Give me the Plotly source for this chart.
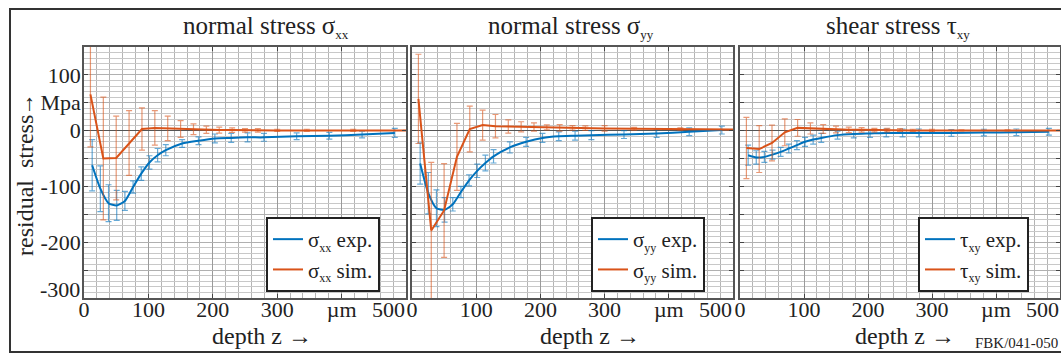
import plotly.graph_objects as go

# ---------------- data ----------------
depth_exp = [12.7, 25.4, 38.1, 50.8, 63.5, 76.2, 88.9, 101.6, 114.3, 127.0,
             152.4, 177.8, 203.2, 228.6, 254.0, 279.4, 330.2, 381.0, 431.8, 482.6]
depth_sim = [10, 30, 50, 70, 90, 110, 130, 150, 170, 190, 210, 230, 250, 270,
             300, 346, 418, 500]

sxx_exp = [-62, -104, -130, -134, -126, -101, -77, -57, -44, -35,
           -23, -18, -14, -13, -12, -12, -10, -9, -7, -4]
sxx_exp_err = [46, 41, 33, 27, 17, 11, 12, 12, 12, 10, 7, 7, 8, 8, 8, 7, 6, 6, 6, 8]
sxx_sim = [65, -50, -49, -22, 3, 5, 4, 3, 2.5, 1.5, 1, 1, 0.5, 0.5, 0.5, 0.5, 0.5, 0.5]
sxx_sim_err = [94, 110, 75, 58, 38, 31, 22, 15, 9.5, 6.5, 5.5, 4, 3, 3, 2, 2, 2, 0]

syy_exp = [-59, -112, -139, -142, -132, -110, -89, -72, -58, -46,
           -30, -20, -13, -10, -9, -8, -7, -5, -2, 1]
syy_exp_err = [37, 37, 33, 22, 12, 10, 10, 12, 14, 12, 10, 8, 8, 8, 8, 8, 7, 7, 7, 7]
syy_sim = [57, -179, -143, -47, 3, 10, 8, 7.5, 7, 6.5, 6, 5, 5, 4.5, 4, 3.5, 3, 2]
syy_sim_err = [80, 122, 84, 60, 41, 27, 21, 12, 9, 7.5, 4.5, 6, 4, 4, 5, 2.5, 2, 0]

txy_exp = [-44, -48, -47, -43, -38, -32, -26, -20, -16, -13,
           -8, -6, -5, -4, -4, -4, -4, -3.5, -3, -2]
txy_exp_err = [18, 12, 10, 8, 8, 8, 8, 8, 8, 8, 7, 7, 7, 7, 7, 7, 6, 6, 6, 6]
txy_sim = [-31, -33, -22, -3, 5, 4, 3, 2, 1.5, 1.5, 1, 1, 1, 0.5, 0.5, 0.5, 0.5, 0.5]
txy_sim_err = [55, 42, 32, 24, 15, 10, 8, 6, 5, 4, 3, 3, 2.5, 2, 2, 1, 1, 0]

symbols = ["σ", "σ", "τ"]
subscripts = ["xx", "yy", "xy"]
title_words = ["normal stress", "normal stress", "shear stress"]
x_tick_vals = [0, 100, 200, 300, 400, 500]
x_tick_text = ["0", "100", "200", "300", "µm", ""]
y_tick_vals = [-300, -250, -200, -150, -100, -50, 0, 50, 100, 150]
y_tick_text = ["", "", "-200", "", "-100", "", "0", "↑ Mpa", "100", ""]

# ---------------- styling ----------------
W, H = 1061, 354
FONT = "Liberation Serif"
BLUE = "#0072BD"
ORANGE = "#D95319"
BLUE_ERR = "rgba(0,114,189,0.6)"
ORANGE_ERR = "rgba(217,83,25,0.6)"
TXT = "#222222"


def px(xp):
    return xp / W


def py(yp):
    return 1 - yp / H


def sub(sym, s, size):
    return f"{sym}<sub><span style='font-size:{size}px'>{s}</span></sub>"


x_domains = [(84, 406), (412, 733), (740, 1060)]
y_domain = [py(298), py(47)]
title_x = [266, 571, 898]
depth_x = [262, 590, 905]
legend_x = [266, 591, 918]

exp_sets = [(sxx_exp, sxx_exp_err), (syy_exp, syy_exp_err), (txy_exp, txy_exp_err)]
sim_sets = [(sxx_sim, sxx_sim_err), (syy_sim, syy_sim_err), (txy_sim, txy_sim_err)]

fig = go.Figure()
layout = dict(
    width=W, height=H, margin=dict(l=0, r=0, t=0, b=0),
    paper_bgcolor="white", plot_bgcolor="white",
    font=dict(family=FONT, size=22, color=TXT),
    showlegend=True,
)

annotations = []
for i in range(3):
    ax = "" if i == 0 else str(i + 1)
    xref = "x" + ax
    yref = "y" + ax
    lg = "legend" + ax
    ye, ye_err = exp_sets[i]
    ys, ys_err = sim_sets[i]
    lab = sub(symbols[i], subscripts[i], 12)
    fig.add_trace(go.Scatter(
        x=depth_exp, y=ye, mode="lines", name=lab + " exp.",
        line=dict(color=BLUE, width=2, shape="spline", smoothing=0.6),
        error_y=dict(type="data", array=ye_err, color=BLUE_ERR, thickness=1.2, width=3),
        xaxis=xref, yaxis=yref, legend=lg))
    fig.add_trace(go.Scatter(
        x=depth_sim, y=ys, mode="lines", name=lab + " sim.",
        line=dict(color=ORANGE, width=2),
        error_y=dict(type="data", array=ys_err, color=ORANGE_ERR, thickness=1.2, width=3),
        xaxis=xref, yaxis=yref, legend=lg))

    layout["xaxis" + ax] = dict(
        domain=[px(x_domains[i][0]), px(x_domains[i][1])], range=[0, 500],
        anchor=yref, tickmode="array", tickvals=x_tick_vals, ticktext=x_tick_text,
        ticks="inside", ticklen=4, tickcolor="#444", tickwidth=1,
        ticklabelstandoff=-9,
        showline=True, linecolor="#555", linewidth=1.5, mirror="ticks",
        showgrid=True, gridcolor="#9a9a9a", gridwidth=1, zeroline=False,
        minor=dict(tickmode="linear", tick0=0, dtick=20, showgrid=True,
                   gridcolor="#b4b4b4", gridwidth=1, ticks=""),
        tickfont=dict(family=FONT, size=22, color=TXT), automargin=False)
    layout["yaxis" + ax] = dict(
        domain=y_domain, range=[-300, 150], anchor=xref,
        tickmode="array", tickvals=y_tick_vals, ticktext=y_tick_text,
        showticklabels=(i == 0), ticklabelstandoff=-3,
        ticks="inside", ticklen=4, tickcolor="#444", tickwidth=1,
        showline=True, linecolor="#555", linewidth=1.5, mirror="ticks",
        showgrid=True, gridcolor="#b0b0b0", gridwidth=1,
        zeroline=True, zerolinecolor="#555555", zerolinewidth=1.2,
        minor=dict(tickmode="linear", tick0=0, dtick=10, showgrid=True,
                   gridcolor="#c8c8c8", gridwidth=1, ticks=""),
        tickfont=dict(family=FONT, size=22, color=TXT), automargin=False)

    layout[lg] = dict(
        x=px(legend_x[i]), y=py(254.5), xanchor="left", yanchor="middle",
        bgcolor="white", bordercolor="#222", borderwidth=2,
        font=dict(family=FONT, size=21, color=TXT), tracegroupgap=0,
        itemwidth=30)

    annotations.append(dict(
        text=title_words[i] + " " + sub(symbols[i], subscripts[i], 13),
        x=px(title_x[i]), y=py(27), xref="paper", yref="paper",
        xanchor="center", yanchor="middle", showarrow=False,
        font=dict(family=FONT, size=25, color=TXT)))
    annotations.append(dict(
        text="depth z →", x=px(depth_x[i]), y=py(336), xref="paper", yref="paper",
        xanchor="center", yanchor="middle", showarrow=False,
        font=dict(family=FONT, size=24, color=TXT)))
    # "500" end label, right-aligned at the plot edge
    annotations.append(dict(
        text="500", x=500, y=py(309), xref=xref, yref="paper",
        xanchor="right", yanchor="middle", showarrow=False, xshift=1,
        font=dict(family=FONT, size=22, color=TXT)))

# "-300" end label, shifted up at the lower plot edge
annotations.append(dict(
    text="-300", x=px(82), y=-300, xref="paper", yref="y",
    xanchor="right", yanchor="middle", showarrow=False, yshift=9,
    font=dict(family=FONT, size=22, color=TXT)))
annotations.append(dict(
    text="residual  stress", x=px(25), y=py(186), xref="paper", yref="paper",
    xanchor="center", yanchor="middle", showarrow=False, textangle=-90,
    font=dict(family=FONT, size=24, color=TXT)))
annotations.append(dict(
    text="FBK/041-050", x=px(1060), y=py(343), xref="paper", yref="paper",
    xanchor="right", yanchor="middle", showarrow=False,
    font=dict(family=FONT, size=15, color=TXT)))

layout["annotations"] = annotations
layout["shapes"] = [dict(type="rect", xref="paper", yref="paper",
                         x0=px(10), x1=1.02, y0=py(352), y1=py(9),
                         line=dict(color="#333", width=2), fillcolor="rgba(0,0,0,0)",
                         layer="below")]
fig.update_layout(**layout)
fig.write_html("out.html")
